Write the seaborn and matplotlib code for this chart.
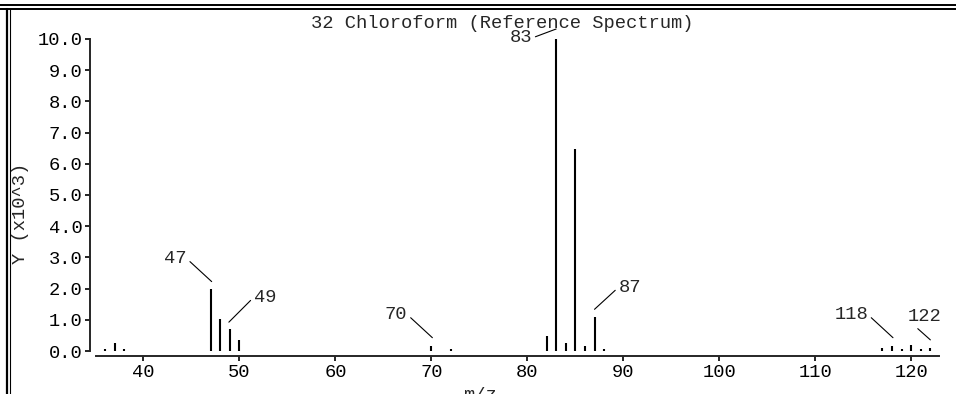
import matplotlib
matplotlib.use("Agg")
import matplotlib.pyplot as plt
import seaborn as sns
from matplotlib.lines import Line2D
from matplotlib.transforms import offset_copy

# peaks (intensity in units of 10^3)
mz = [36, 37, 38, 47, 48, 49, 50, 70, 72, 82, 83, 84, 85, 86, 87, 88,
      117, 118, 119, 120, 121, 122]
intensity = [0.05, 0.27, 0.05, 2.0, 1.03, 0.7, 0.35, 0.17, 0.05, 0.48, 10.0,
             0.27, 6.47, 0.16, 1.08, 0.05, 0.09, 0.17, 0.08, 0.18, 0.05, 0.1]

labelled = [47, 49, 70, 83, 87, 118, 122]
x_ticks = [40, 50, 60, 70, 80, 90, 100, 110, 120]
y_ticks = [0, 1, 2, 3, 4, 5, 6, 7, 8, 9, 10]

title = "32 Chloroform (Reference Spectrum)"

sns.set_style("ticks")
plt.rcParams["font.family"] = ["Liberation Mono", "DejaVu Sans Mono"]
plt.rcParams["font.size"] = 13.5

fig = plt.figure(figsize=(9.56, 3.94), dpi=100)
W, H = 956, 394
ax = fig.add_axes([96 / W, 1 - 351 / H, (939 - 96) / W, (351 - 39) / H])

ax.vlines(mz, 0, intensity, color="black", linewidth=1.5)
ax.set_xlim(35.05, 122.9)
ax.set_ylim(0, 10)

ax.set_xticks(x_ticks)
ax.set_xticklabels([str(t) for t in x_ticks])
ax.set_yticks(y_ticks)
ax.set_yticklabels([f"{t:.1f}" for t in y_ticks])

sns.despine(ax=ax)
ax.spines["left"].set_position(("outward", 4.3))
ax.spines["bottom"].set_position(("outward", 3.6))
ax.spines["left"].set_bounds(0, 10)
for s in ("left", "bottom"):
    ax.spines[s].set_linewidth(1.4)
ax.tick_params(direction="out", length=3.6, width=1.2, pad=2, colors="black")

# label placement: text anchor offset and leader end offset, in pixels from peak top
ann_style = {
    47: ((-24, 30), (1, 7), "right"),
    49: ((24, 32), (-1, 7), "left"),
    70: ((-24, 31), (1, 8), "right"),
    83: ((-24, 1), (0, 10), "right"),
    87: ((24, 30), (0, 8), "left"),
    118: ((-24, 31), (1, 8), "right"),
    122: ((-23, 31), (0, 8), "left122"),
}
for m in labelled:
    h = intensity[mz.index(m)]
    (tx, ty), (ex, ey), side = ann_style[m]
    end_tr = offset_copy(ax.transData, fig=fig, x=ex, y=ey, units="dots")
    if side == "right":
        ha, rel = "right", (1, 0.5)
    elif side == "left":
        ha, rel = "left", (0, 0.5)
    else:
        ha, rel = "left", (0.03, 0.3)
    ax.annotate(str(m), xy=(m, h), xycoords=end_tr,
                xytext=(tx - ex, ty - ey), textcoords="offset pixels",
                ha=ha, va="center", annotation_clip=False,
                arrowprops=dict(arrowstyle="-", color="black", lw=0.8,
                                shrinkA=0, shrinkB=0, relpos=rel))

fig.text(502 / W, 1 - 23 / H, title, ha="center", va="center")
fig.text(21 / W, 1 - 213 / H, "Y (x10^3)", rotation=90, ha="center", va="center")
fig.text(480 / W, 1 - 396 / H, "m/z", ha="center", va="center")
fig.text(480 / W, 1 + 4 / H, "m/z", ha="center", va="center")

# panel frame lines
for y in (5, 9):
    fig.add_artist(Line2D([0, 1], [1 - y / H, 1 - y / H], transform=fig.transFigure,
                          color="black", linewidth=1.4))
for x, lw in ((7, 1.6), (9.5, 0.8)):
    fig.add_artist(Line2D([x / W, x / W], [0, 1 - 9 / H], transform=fig.transFigure,
                          color="black", linewidth=lw))

fig.savefig("out.png", dpi=100)
